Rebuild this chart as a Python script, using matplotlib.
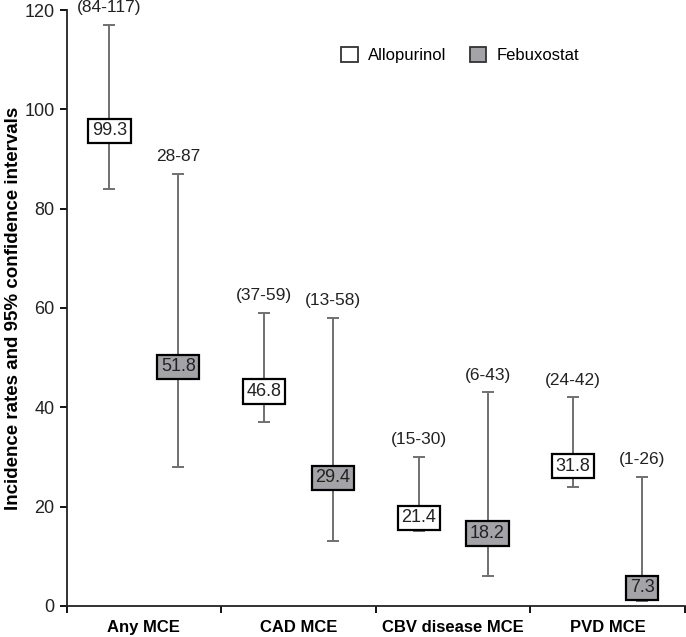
import numpy as np
import matplotlib.pyplot as plt
from matplotlib.patches import Patch

plt.rcParams['font.family'] = ['Liberation Sans', 'DejaVu Sans']

# data
categories = ['Any MCE', 'CAD MCE', 'CBV disease MCE', 'PVD MCE']
allo_rate = [99.3, 46.8, 21.4, 31.8]
allo_low = [84, 37, 15, 24]
allo_high = [117, 59, 30, 42]
febu_rate = [51.8, 29.4, 18.2, 7.3]
febu_low = [28, 13, 6, 1]
febu_high = [87, 58, 43, 26]
allo_ci_text = ['(84-117)', '(37-59)', '(15-30)', '(24-42)']
febu_ci_text = ['28-87', '(13-58)', '(6-43)', '(1-26)']

fig = plt.figure(figsize=(6.86, 6.37), dpi=100)
ax = fig.add_axes([0.097, 0.0487, 0.9015, 0.9356])

x = np.arange(len(categories))
off = 0.223
groups = [
    (x - off, allo_rate, allo_low, allo_high, allo_ci_text, 'white'),
    (x + off, febu_rate, febu_low, febu_high, febu_ci_text, '#a4a4a8'),
]

for xs, rate, low, high, ci_text, fill in groups:
    for i in range(len(xs)):
        ax.errorbar(xs[i], (low[i] + high[i]) / 2, yerr=(high[i] - low[i]) / 2,
                    fmt='none', ecolor='#707070', elinewidth=1.4, capsize=4, capthick=1.4)
        # value box sits a little below the point
        ax.annotate(f'{rate[i]:.1f}', xy=(xs[i], rate[i]), xytext=(0, -18),
                    textcoords='offset pixels', ha='center', va='center',
                    fontsize=13, color='#222222',
                    bbox=dict(boxstyle='square,pad=0.2', fc=fill, ec='black', lw=1.6))
        ax.annotate(ci_text[i], xy=(xs[i], high[i]), xytext=(0, 17),
                    textcoords='offset pixels', ha='center', va='center',
                    fontsize=12.5, color='#222222')

ax.set_xlim(-0.5, 3.5)
ax.set_ylim(0, 120)
ax.set_yticks(np.arange(0, 121, 20))
ax.set_xticks(x)
ax.set_xticklabels(categories, fontsize=12, fontweight='bold')
ax.set_xticks(np.arange(-0.5, 3.6, 1), minor=True)
ax.tick_params(axis='x', which='major', length=0, pad=10)
ax.tick_params(axis='x', which='minor', length=5, width=1.3)
ax.tick_params(axis='y', length=5, width=1.3, labelsize=13, labelcolor='#222222')
ax.set_ylabel('Incidence rates and 95% confidence intervals', fontsize=13.5, fontweight='bold')
ax.yaxis.set_label_coords(-0.072, 0.5)

for side in ['top', 'right']:
    ax.spines[side].set_visible(False)
for side in ['left', 'bottom']:
    ax.spines[side].set_linewidth(1.3)
    ax.spines[side].set_color('#222222')

handles = [Patch(facecolor='white', edgecolor='#333333', lw=1.3, label='Allopurinol'),
           Patch(facecolor='#a4a4a8', edgecolor='#333333', lw=1.3, label='Febuxostat')]
ax.legend(handles=handles, ncol=2, frameon=False, fontsize=12, loc='center left',
          bbox_to_anchor=(0.42, 0.924), handlelength=1.0, handleheight=1.0,
          handletextpad=0.6, columnspacing=1.4)

fig.savefig('out.png', dpi=100)
